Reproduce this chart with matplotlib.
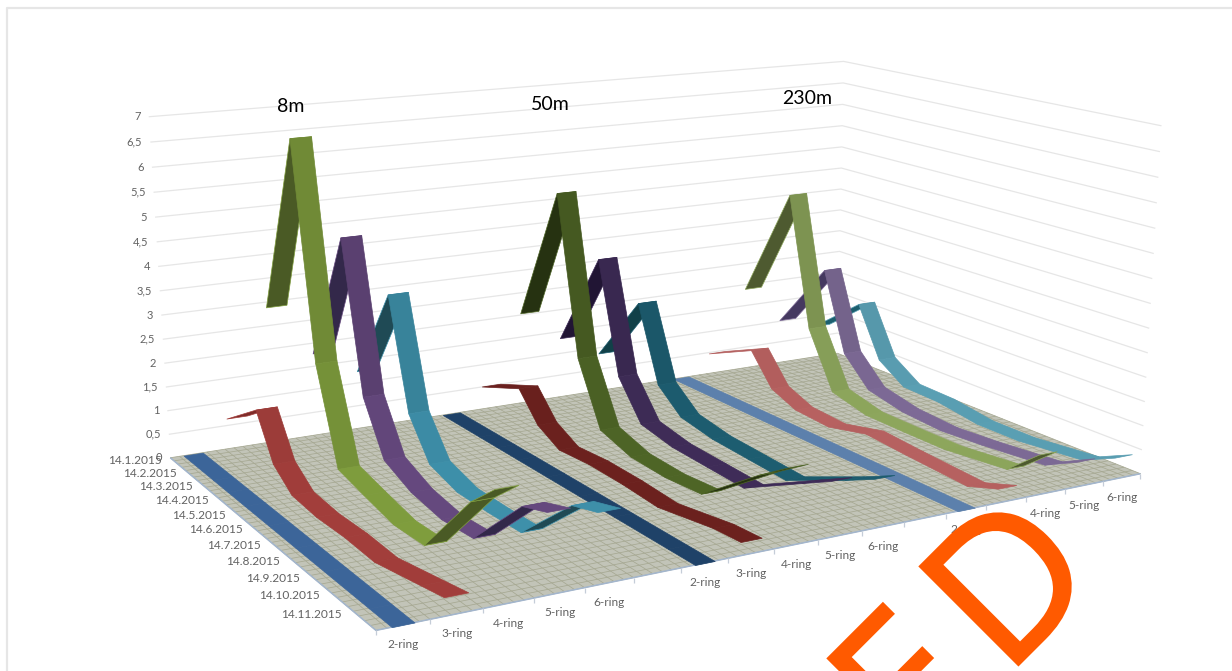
import numpy as np
import matplotlib
matplotlib.use("Agg")
import matplotlib.pyplot as plt
from matplotlib.collections import PolyCollection, LineCollection
from matplotlib.colors import to_rgb
from matplotlib.patheffects import withStroke

WIDTH, HEIGHT = 1232, 671
N_SLOTS = 17
N_ROWS, N_COLS = 44, 85
plt.rcParams['font.family'] = ['Lato', 'DejaVu Sans']

rings = ["2-ring", "3-ring", "4-ring", "5-ring", "6-ring"]
dates = ["14.%d.2015" % m for m in range(1, 12)]
z_ticks = ["0", "0,5", "1", "1,5", "2", "2,5", "3", "3,5", "4", "4,5", "5", "5,5", "6", "6,5", "7"]
# where each measurement falls along the date axis (0 = first date, 1 = last)
sample_pos = [0, .17, .25, .34, .46, .59, .72, .91, 1]

ring2_8m = [0, 0, 0, 0, 0, 0, 0, 0, 0]
ring3_8m = [0.65, 1.31, 0.42, 0.06, 0.00, 0.03, 0.00, 0.23, 0.34]
ring4_8m = [2.89, 6.66, 2.33, 0.43, 0.27, 0.11, 0.14, 1.57, 2.07]
ring5_8m = [1.78, 4.59, 1.51, 0.46, 0.17, 0.04, 0.10, 1.32, 1.50]
ring6_8m = [1.26, 3.31, 1.02, 0.22, 0.01, 0.01, 0.04, 1.17, 1.33]

ring2_50m = [0, 0, 0, 0, 0, 0, 0, 0, 0]
ring3_50m = [0.51, 0.92, 0.34, 0.06, 0.11, 0.09, 0.03, 0.23, 0.26]
ring4_50m = [2.04, 5.02, 1.65, 0.34, 0.11, 0.07, 0.13, 1.09, 1.50]
ring5_50m = [1.35, 3.50, 1.12, 0.32, 0.17, 0.13, 0.09, 0.77, 1.09]
ring6_50m = [0.87, 2.42, 0.80, 0.33, 0.19, 0.14, 0.09, 0.67, 0.97]

ring2_230m = [0, 0, 0, 0, 0, 0, 0, 0, 0]
ring3_230m = [0.48, 0.98, 0.30, 0.06, 0.01, 0.22, 0.15, 0.07, 0.29]
ring4_230m = [1.90, 4.42, 1.55, 0.33, 0.13, 0.12, 0.12, 0.26, 0.82]
ring5_230m = [1.03, 2.60, 0.85, 0.24, 0.06, 0.00, 0.06, 0.19, 0.52]
ring6_230m = [0.76, 1.69, 0.57, 0.17, 0.14, 0.00, 0.00, 0.14, 0.45]

depth_series = {
    0: [ring2_8m, ring3_8m, ring4_8m, ring5_8m, ring6_8m],
    6: [ring2_50m, ring3_50m, ring4_50m, ring5_50m, ring6_50m],
    12: [ring2_230m, ring3_230m, ring4_230m, ring5_230m, ring6_230m],
}

# (upper side, underside) of each ribbon
palette = {
    0: [("#3C6599", "#3C6599"), ("#A23E3B", "#7E2B29"), ("#7F9D3D", "#4A5A25"), ("#66497F", "#33284A"), ("#3E90AA", "#1F4A55")],
    6: [("#1F4268", "#1F4268"), ("#6C211E", "#4A1210"), ("#4E6526", "#263211"), ("#3F2C58", "#211534"), ("#1D5D70", "#114048")],
    12: [("#5C80AC", "#5C80AC"), ("#B76160", "#A04E4E"), ("#8DA65C", "#4E5A30"), ("#7D6A96", "#453960"), ("#5A9FB3", "#1D5F6E")],
}

# Perspective camera: solve the 3x4 projection from the box corners,
# with u along the rings, v along the dates and z the value.
box_corners = [((0, 0, 0), (170, 457)), ((0, 0, 7), (149, 117)), ((1, 0, 0), (838, 354)), ((1, 0, 7), (843, 61)),
               ((1, 1, 0), (1140, 473)), ((1, 1, 7), (1162, 126)), ((0, 1, 0), (376, 631))]
rows = []
for (u, v, z), (x, y) in box_corners:
    rows.append([u, v, z, 1, 0, 0, 0, 0, -x*u, -x*v, -x*z, -x])
    rows.append([0, 0, 0, 0, u, v, z, 1, -y*u, -y*v, -y*z, -y])
P = np.linalg.svd(np.array(rows, float))[2][-1].reshape(3, 4)


def project(u, v, z):
    q = P @ np.array([u, v, z, 1.0])
    return q[0]/q[2], q[1]/q[2]


def signed_area(pts):
    q = np.array(pts)
    return np.sum(q[:, 0]*np.roll(q[:, 1], -1) - np.roll(q[:, 0], -1)*q[:, 1])


fig = plt.figure(figsize=(WIDTH/100, HEIGHT/100), dpi=100, facecolor="white")
ax = fig.add_axes([0, 0, 1, 1])
ax.set_xlim(0, WIDTH)
ax.set_ylim(HEIGHT, 0)
ax.axis("off")

# card outline
ax.plot([7, 7, WIDTH], [HEIGHT, 8, 8], color="#E6E6E6", lw=1.6, zorder=1)

# wall grid lines
wall = []
for k in range(1, len(z_ticks)):
    z = k*0.5
    wall.append([project(0, 0, z), project(1, 0, z), project(1, 1, z)])
ax.add_collection(LineCollection(wall, colors="#E6E6E6", linewidths=0.9, zorder=2))

# floor
ax.add_collection(PolyCollection([[project(0, 0, 0), project(1, 0, 0), project(1, 1, 0), project(0, 1, 0)]],
                                 facecolors="#C2C4B8", edgecolors="none", zorder=3))
grid = [[project(i/N_COLS, 0, 0), project(i/N_COLS, 1, 0)] for i in range(N_COLS+1)]
grid += [[project(0, j/N_ROWS, 0), project(1, j/N_ROWS, 0)] for j in range(N_ROWS+1)]
ax.add_collection(LineCollection(grid, colors="#A6A892", linewidths=0.55, zorder=3))
ax.add_collection(LineCollection([[project(0, 0, 0), project(0, 1, 0), project(1, 1, 0)]],
                                 colors="#A3B6CE", linewidths=1.1, zorder=3))
ticks = []
for i in range(N_SLOTS+1):
    x, y = project(i/N_SLOTS, 1, 0)
    ticks.append([(x, y), (x, y+5)])
ax.add_collection(LineCollection(ticks, colors="#C5CDD8", linewidths=0.9, zorder=3))

# ribbons, far slots first so nearer ones overlap them
zo = 4
for start in (12, 6, 0):
    for idx in range(4, -1, -1):
        slot = start + idx
        top, under = palette[start][idx]
        z = depth_series[start][idx]
        half = 0.21 if idx == 0 else 0.23
        u0, u1 = (slot+.5-half)/N_SLOTS, (slot+.5+half)/N_SLOTS
        floor_sign = signed_area([project(u0, 0, 0), project(u1, 0, 0), project(u1, 1, 0), project(u0, 1, 0)])
        for i in range(len(z)-1):
            quad = [project(u0, sample_pos[i], z[i]), project(u1, sample_pos[i], z[i]),
                    project(u1, sample_pos[i+1], z[i+1]), project(u0, sample_pos[i+1], z[i+1])]
            shown_top = signed_area(quad)*floor_sign > 0
            steep = 1 - 0.12*min(1.0, abs(z[i+1]-z[i])/3)
            face = np.array(to_rgb(top))*steep if shown_top else to_rgb(under)
            edge = face if shown_top else to_rgb(top)
            ax.add_collection(PolyCollection([quad], facecolors=[face], edgecolors=[edge],
                                             linewidths=0.5, zorder=zo))
            zo += 1

# axis labels
text_grey = "#626262"
for k, lab in enumerate(z_ticks):
    x, y = project(0, 0, k*0.5)
    ax.text(x-8, y, lab, ha="right", va="center", fontsize=8, color=text_grey, zorder=500)
for i, lab in enumerate(dates):
    v = i/11
    x, y = project(0, v, 0)
    ax.text(x-8-4*v, y+3, lab, ha="right", va="center", fontsize=8.6, color=text_grey, zorder=500)
for start in depth_series:
    for idx, lab in enumerate(rings):
        x, y = project((start+idx+.5)/N_SLOTS, 1, 0)
        ax.text(x, y+20, lab, ha="center", va="center", fontsize=8.6, color=text_grey, zorder=500)

for lab, x, y in (("8m", 291, 106), ("50m", 550, 104), ("230m", 807, 98)):
    ax.text(x, y, lab, ha="center", va="center", fontsize=14, color="black", zorder=500)

# diagonal stamp running off the lower edge
for ch, x, y in (("E", 913, 770), ("D", 1005, 678)):
    ax.text(x, y, ch, rotation=45, rotation_mode="anchor", ha="left", va="baseline",
            fontsize=140, family="Open Sans", color="#FF5A00", zorder=600, clip_on=True,
            path_effects=[withStroke(linewidth=2, foreground="#FF5A00", joinstyle="miter")])

fig.savefig("out.png", dpi=100, facecolor="white")
